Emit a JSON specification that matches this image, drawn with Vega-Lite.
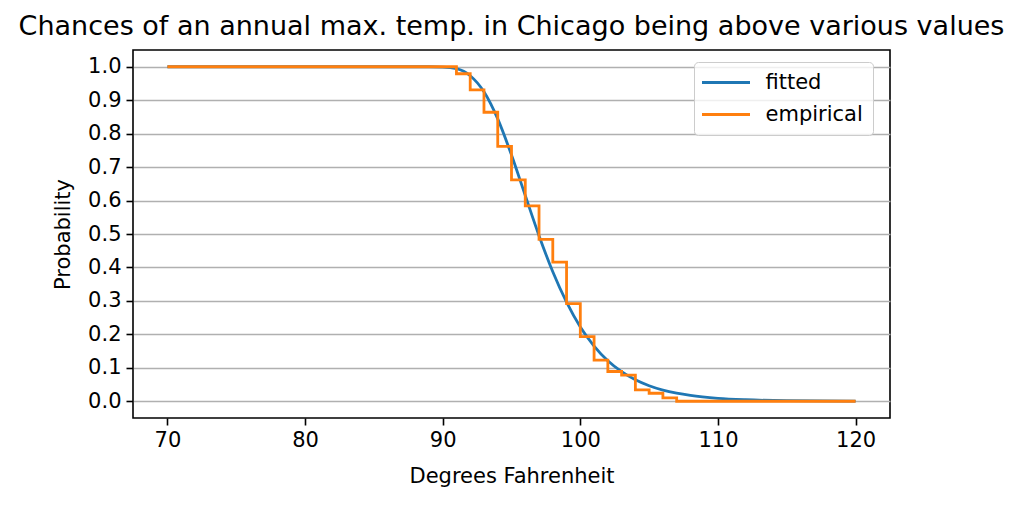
{
  "$schema": "https://vega.github.io/schema/vega-lite/v6.json",
  "width": 757,
  "height": 368,
  "autosize": {"type": "none"},
  "padding": {"left": 133, "top": 50, "right": 134, "bottom": 88},
  "background": "white",
  "title": {
    "text": "Chances of an annual max. temp. in Chicago being above various values",
    "font": "DejaVu Sans",
    "fontSize": 27,
    "fontWeight": "normal",
    "color": "black",
    "anchor": "middle",
    "offset": 9
  },
  "config": {
    "view": {"stroke": "black", "strokeWidth": 1.6},
    "axis": {
      "labelFont": "DejaVu Sans",
      "titleFont": "DejaVu Sans",
      "labelFontSize": 21,
      "titleFontSize": 21,
      "titleFontWeight": "normal",
      "labelColor": "black",
      "titleColor": "black",
      "tickColor": "black",
      "tickSize": 7,
      "tickWidth": 1.6,
      "domain": false
    }
  },
  "datasets": {
    "fitted": [
      {"x": 70, "p": 1.0, "series": "fitted"},
      {"x": 80, "p": 1.0, "series": "fitted"},
      {"x": 85, "p": 1.0, "series": "fitted"},
      {"x": 88, "p": 1.0, "series": "fitted"},
      {"x": 89, "p": 0.9999, "series": "fitted"},
      {"x": 90, "p": 0.999, "series": "fitted"},
      {"x": 91, "p": 0.994, "series": "fitted"},
      {"x": 92, "p": 0.973, "series": "fitted"},
      {"x": 93, "p": 0.925, "series": "fitted"},
      {"x": 94, "p": 0.844, "series": "fitted"},
      {"x": 95, "p": 0.736, "series": "fitted"},
      {"x": 96, "p": 0.615, "series": "fitted"},
      {"x": 97, "p": 0.495, "series": "fitted"},
      {"x": 98, "p": 0.387, "series": "fitted"},
      {"x": 99, "p": 0.296, "series": "fitted"},
      {"x": 100, "p": 0.222, "series": "fitted"},
      {"x": 101, "p": 0.165, "series": "fitted"},
      {"x": 102, "p": 0.121, "series": "fitted"},
      {"x": 103, "p": 0.0884, "series": "fitted"},
      {"x": 104, "p": 0.0642, "series": "fitted"},
      {"x": 105, "p": 0.0464, "series": "fitted"},
      {"x": 106, "p": 0.0334, "series": "fitted"},
      {"x": 107, "p": 0.0241, "series": "fitted"},
      {"x": 108, "p": 0.0173, "series": "fitted"},
      {"x": 110, "p": 0.0089, "series": "fitted"},
      {"x": 112, "p": 0.0046, "series": "fitted"},
      {"x": 115, "p": 0.0017, "series": "fitted"},
      {"x": 120, "p": 0.0003, "series": "fitted"}
    ],
    "empirical": [
      {"x": 70, "p": 1.0, "series": "empirical"},
      {"x": 91, "p": 0.979, "series": "empirical"},
      {"x": 92, "p": 0.931, "series": "empirical"},
      {"x": 93, "p": 0.864, "series": "empirical"},
      {"x": 94, "p": 0.762, "series": "empirical"},
      {"x": 95, "p": 0.662, "series": "empirical"},
      {"x": 96, "p": 0.584, "series": "empirical"},
      {"x": 97, "p": 0.484, "series": "empirical"},
      {"x": 98, "p": 0.416, "series": "empirical"},
      {"x": 99, "p": 0.292, "series": "empirical"},
      {"x": 100, "p": 0.193, "series": "empirical"},
      {"x": 101, "p": 0.123, "series": "empirical"},
      {"x": 102, "p": 0.089, "series": "empirical"},
      {"x": 103, "p": 0.078, "series": "empirical"},
      {"x": 104, "p": 0.034, "series": "empirical"},
      {"x": 105, "p": 0.024, "series": "empirical"},
      {"x": 106, "p": 0.01, "series": "empirical"},
      {"x": 107, "p": 0.0, "series": "empirical"},
      {"x": 120, "p": 0.0, "series": "empirical"}
    ]
  },
  "encoding": {
    "x": {
      "field": "x",
      "type": "quantitative",
      "title": "Degrees Fahrenheit",
      "scale": {"domain": [67.5, 122.5], "nice": false, "zero": false},
      "axis": {"values": [70, 80, 90, 100, 110, 120], "grid": false, "labelPadding": 4, "titlePadding": 15}
    },
    "y": {
      "field": "p",
      "type": "quantitative",
      "title": "Probability",
      "scale": {"domain": [-0.05, 1.05], "nice": false, "zero": false},
      "axis": {
        "values": [0, 0.1, 0.2, 0.3, 0.4, 0.5, 0.6, 0.7, 0.8, 0.9, 1.0],
        "format": ".1f",
        "grid": true,
        "gridColor": "#b0b0b0",
        "gridWidth": 1.5,
        "labelPadding": 5,
        "titlePadding": 14
      }
    },
    "color": {
      "field": "series",
      "type": "nominal",
      "scale": {"domain": ["fitted", "empirical"], "range": ["#1f77b4", "#ff7f0e"]},
      "legend": {
        "title": null,
        "orient": "none",
        "legendX": 561,
        "legendY": 12,
        "symbolType": "M-3,0H3",
        "symbolSize": 256,
        "symbolOffset": 11.5,
        "symbolStrokeWidth": 3,
        "labelFont": "DejaVu Sans",
        "labelFontSize": 21,
        "labelColor": "black",
        "labelOffset": 29,
        "rowPadding": 10,
        "padding": 10,
        "strokeColor": "#cccccc",
        "fillColor": "rgba(255,255,255,0.8)",
        "cornerRadius": 4
      }
    }
  },
  "layer": [
    {
      "data": {"name": "fitted"},
      "mark": {"type": "line", "interpolate": "monotone", "strokeWidth": 2.8}
    },
    {
      "data": {"name": "empirical"},
      "mark": {"type": "line", "interpolate": "step-after", "strokeWidth": 2.8}
    }
  ]
}
